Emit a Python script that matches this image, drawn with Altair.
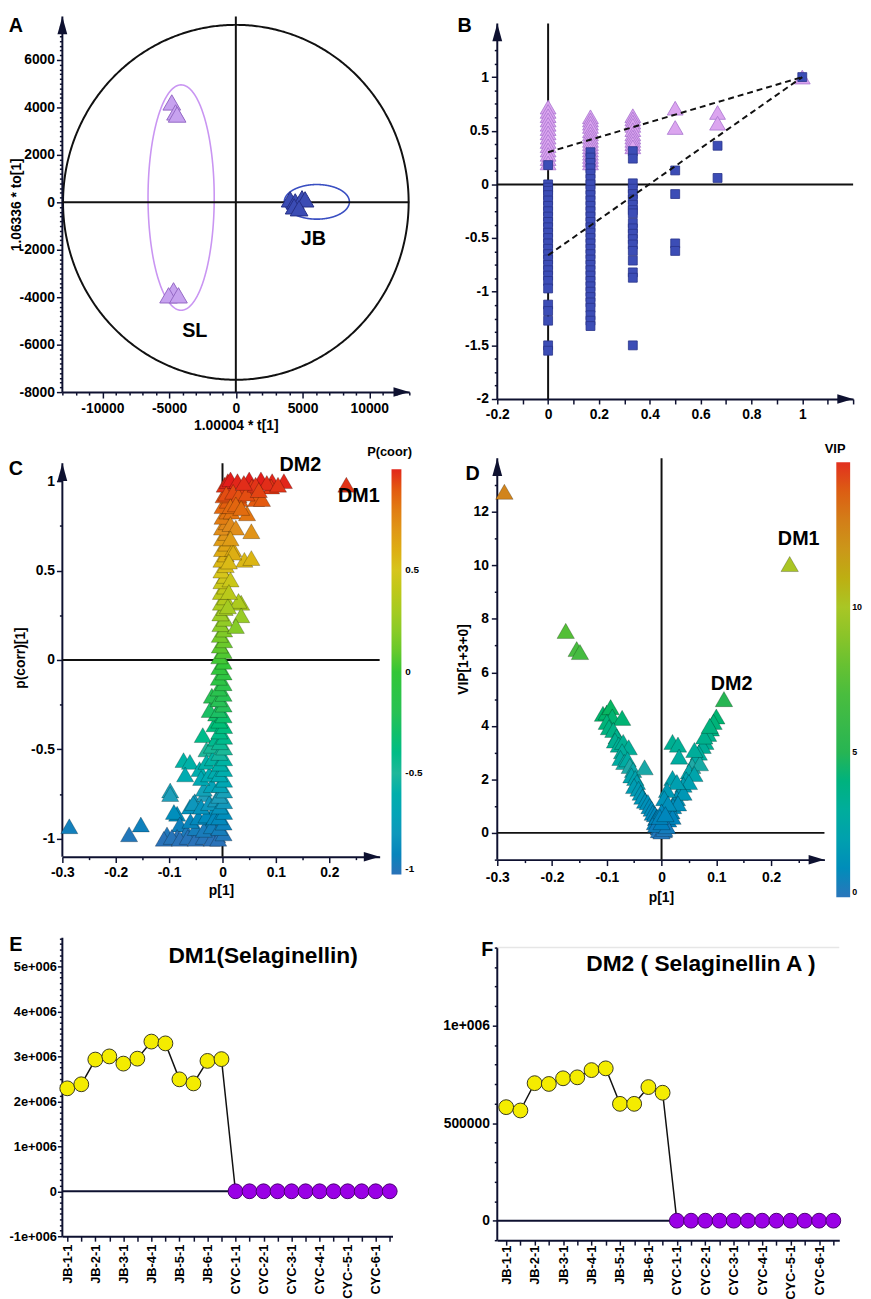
import altair as alt
import pandas as pd

FONT = "Liberation Sans"
AX = "#0e1130"
INK = "#111111"

# ================= Panel A : score plot =================
a_sl_x = [-4800, -4520, -4400, -4670, -5040, -4300]
a_sl_y = [4210, 3790, 3700, -3710, -3920, -3920]
a_jb_x = [4070, 4450, 4960, 5190, 4370, 4740]
a_jb_y = [125, 40, 170, 125, -170, -250]
a_ell_cx = [0, -4100, 6070]
a_ell_cy = [0, 200, 20]
a_ell_rx = [12950, 2480, 2440]
a_ell_ry = [7480, 4750, 730]
a_ell_color = ["#111111", "#c995f2", "#3a4fc2"]
a_ell_width = [2, 1.6, 1.6]
a_lab_x = [5815, -3074]
a_lab_y = [-1542, -5417]
a_lab_t = ["JB", "SL"]
a_x_ticks = list(range(-13000, 13001, 1000))
a_x_major = [-10000, -5000, 0, 5000, 10000]
a_y_ticks = list(range(-8000, 7401, 200))
a_y_major = [-8000, -6000, -4000, -2000, 0, 2000, 4000, 6000]

# ================= Panel B : permutation test =================
b_levels = [0.0, 0.1667, 0.3333, 0.5, 0.6667, 1.0]
b_r2 = [
    [0.72, 0.68, 0.64, 0.60, 0.56, 0.52, 0.48, 0.44, 0.40, 0.36, 0.32, 0.28, 0.24, 0.20],
    [0.63, 0.60, 0.57, 0.54, 0.50, 0.47, 0.44, 0.41, 0.38, 0.35, 0.32, 0.29, 0.26, 0.23, 0.20],
    [0.64, 0.61, 0.58, 0.55, 0.51, 0.47, 0.44, 0.41, 0.38, 0.35],
    [0.71, 0.53],
    [0.67, 0.57],
    [1.0],
]
b_q2 = [
    [0.18, 0.0, -0.03, -0.06, -0.1, -0.15, -0.2, -0.25, -0.3, -0.35, -0.4, -0.45, -0.5, -0.55,
     -0.6, -0.65, -0.7, -0.75, -0.8, -0.85, -0.9, -0.97, -1.12, -1.18, -1.27, -1.5, -1.55],
    [0.3, 0.25, 0.2, 0.15, 0.1, 0.05, 0.0, -0.05, -0.1, -0.15, -0.2, -0.25, -0.3, -0.35, -0.4,
     -0.45, -0.5, -0.55, -0.6, -0.65, -0.7, -0.75, -0.8, -0.85, -0.9, -0.95, -1.0, -1.05, -1.1,
     -1.15, -1.22, -1.27, -1.32],
    [0.31, 0.24, 0.01, -0.04, -0.09, -0.14, -0.19, -0.24, -0.27, -0.36, -0.41, -0.46, -0.51,
     -0.56, -0.62, -0.71, -0.82, -0.87, -1.5],
    [0.13, -0.09, -0.55, -0.62],
    [0.36, 0.06],
    [1.0],
]
b_r2_line_x = [0.0, 1.0]
b_r2_line_y = [0.30, 1.0]
b_q2_line_x = [0.0, 1.0]
b_q2_line_y = [-0.66, 1.0]
b_x_ticks = [-0.2, -0.1, 0.0, 0.1, 0.2, 0.3, 0.4, 0.5, 0.6, 0.7, 0.8, 0.9, 1.0, 1.1, 1.2]
b_x_major = [-0.2, 0.0, 0.2, 0.4, 0.6, 0.8, 1.0]
b_y_ticks = [i * 0.125 for i in range(-16, 12)]
b_y_major = [-2.0, -1.5, -1.0, -0.5, 0.0, 0.5, 1.0]

# ================= Panel C : S-plot =================
c_core_x = [-0.008, 0.002, -0.006, 0.002, -0.006, 0.003, -0.005, 0.003, -0.006, 0.003,
            -0.005, 0.003, -0.006, 0.003, -0.005, 0.003, -0.006, 0.003, -0.005, 0.003,
            -0.006, 0.003, -0.006, 0.002, -0.007, 0.002, -0.007, 0.002, -0.007, 0.002,
            -0.007, 0.002, -0.006, 0.002, -0.006, 0.002, -0.005, 0.003, -0.005, 0.003,
            -0.004, 0.004, -0.004, 0.004, -0.003, 0.005, -0.003, 0.005, -0.002, 0.005,
            -0.002, 0.006, -0.002, 0.006, -0.001, 0.007, -0.001, 0.007, -0.001, 0.008,
            0.0, 0.009, 0.0, 0.010, 0.002, 0.012, 0.004, 0.010]
c_core_y = [-1.00, -0.97, -0.94, -0.91, -0.88, -0.85, -0.82, -0.79, -0.76, -0.73,
            -0.70, -0.67, -0.64, -0.61, -0.58, -0.55, -0.52, -0.49, -0.46, -0.43,
            -0.40, -0.37, -0.34, -0.31, -0.28, -0.25, -0.22, -0.19, -0.16, -0.13,
            -0.10, -0.07, -0.04, -0.01, 0.02, 0.05, 0.08, 0.11, 0.14, 0.17,
            0.20, 0.23, 0.26, 0.29, 0.32, 0.35, 0.38, 0.41, 0.44, 0.47,
            0.50, 0.53, 0.56, 0.59, 0.62, 0.65, 0.68, 0.71, 0.74, 0.77,
            0.80, 0.83, 0.86, 0.89, 0.92, 0.95, 0.98, 1.00]
c_top_x = [0.015, 0.028, 0.05, 0.072, 0.093, 0.115,
           0.091, 0.063, 0.074, 0.032, 0.007, 0.046, 0.017, 0.054, 0.041, 0.054, 0.020, 0.035,
           0.035, 0.025, 0.030,
           0.040, 0.055, 0.020, 0.030, 0.045, 0.015, 0.025, 0.035, 0.015, 0.025, 0.015, 0.020,
           0.012, 0.015, 0.012, 0.010,
           0.083, 0.062, 0.104, 0.040, 0.068]
c_top_y = [1.01, 1.00, 1.01, 1.01, 1.00, 1.00,
           0.97, 0.90, 0.90, 0.90, 0.93, 0.82, 0.83, 0.72, 0.56, 0.57, 0.62, 0.32,
           0.25, 0.19, 0.33,
           0.96, 0.97, 0.94, 0.92, 0.93, 0.86, 0.87, 0.85, 0.76, 0.74, 0.68, 0.60,
           0.55, 0.45, 0.38, 0.30,
           0.99, 0.98, 0.98, 0.99, 0.95]
c_bot_x = [-0.073, -0.061, -0.07, -0.098, -0.098, -0.153, -0.175, -0.037, -0.03, -0.043,
           -0.052, -0.085, -0.091, -0.08, -0.104, -0.085, -0.067, -0.052, -0.024, -0.015,
           -0.01, -0.033, -0.061, -0.11, -0.095, -0.08, -0.065, -0.05, -0.035, -0.02,
           -0.05, -0.035, -0.02, -0.06, -0.045, -0.03, -0.015, -0.055, -0.04, -0.025,
           -0.012, -0.035, -0.02, -0.04, -0.025, -0.012, -0.03, -0.018, -0.02, -0.012,
           -0.015, -0.012, -0.01, -0.02, -0.024, -0.287]
c_bot_y = [-0.56, -0.57, -0.64, -0.73, -0.75, -0.92, -0.975, -0.42, -0.50, -0.61,
           -0.79, -0.86, -0.85, -0.92, -0.975, -0.99, -0.96, -0.975, -0.90, -0.84,
           -0.98, -0.75, -0.82, -1.0, -0.99, -1.0, -0.99, -1.0, -0.99, -1.0,
           -0.94, -0.95, -0.93, -0.90, -0.88, -0.87, -0.88, -0.80, -0.82, -0.80,
           -0.78, -0.72, -0.70, -0.66, -0.64, -0.62, -0.57, -0.55, -0.48, -0.44,
           -0.36, -0.30, -0.22, -0.20, -0.28, -0.93]
c_dm1 = (0.232, 0.98)
c_lab_x = [0.146, 0.2556]
c_lab_y = [1.089, 0.918]
c_lab_t = ["DM2", "DM1"]
c_x_ticks = [-0.3, -0.25, -0.2, -0.15, -0.1, -0.05, 0.0, 0.05, 0.1, 0.15, 0.2, 0.25]
c_x_major = [-0.3, -0.2, -0.1, 0.0, 0.1, 0.2]
c_y_ticks = [-1.0, -0.75, -0.5, -0.25, 0.0, 0.25, 0.5, 0.75, 1.0]
c_y_major = [-1.0, -0.5, 0.0, 0.5, 1.0]
c_col_dom = [-1, -0.75, -0.5, -0.25, 0, 0.25, 0.5, 0.75, 1]
c_col_fill = ["#2a72b8", "#219fba", "#1fb79a", "#27c05a", "#34c636", "#98cc26", "#d6c51c",
              "#e08c1c", "#e2261a"]
c_legend_values = [-1, -0.5, 0, 0.5]

# ================= Panel D : VIP plot =================
d_left_x = [-0.107, -0.1, -0.093, -0.09, -0.1, -0.096, -0.072, -0.088, -0.082, -0.085,
            -0.078, -0.07, -0.06, -0.072, -0.075, -0.068, -0.062, -0.058, -0.052, -0.031,
            -0.055, -0.048, -0.045, -0.05, -0.042, -0.038, -0.035, -0.03, -0.025, -0.022,
            -0.018, -0.016, -0.012, -0.01, -0.012, -0.006, -0.005, -0.002, -0.008, -0.004]
d_left_v = [4.45, 4.5, 4.7, 4.35, 4.15, 3.95, 4.3, 3.85, 3.6, 3.45,
            3.3, 3.4, 3.2, 3.05, 2.8, 2.65, 2.75, 2.5, 2.35, 2.45,
            2.15, 2.05, 1.9, 1.75, 1.65, 1.5, 1.35, 1.2, 1.15, 1.0,
            0.9, 0.75, 0.7, 0.55, 0.4, 0.35, 0.2, 0.1, 0.6, 0.45]
d_right_x = [0.114, 0.1, 0.095, 0.09, 0.085, 0.08, 0.075, 0.068, 0.062, 0.056,
             0.05, 0.045, 0.04, 0.033, 0.028, 0.021, 0.018, 0.012, 0.008, 0.004,
             0.07, 0.06, 0.05, 0.04, 0.03, 0.02, 0.06, 0.078, 0.088,
             0.02, 0.03, 0.032, 0.02, 0.028, 0.01, 0.005, 0.012, 0.0, -0.005,
             0.0, 0.005, -0.01, 0.01, 0.0, -0.003, 0.007]
d_right_v = [5.0, 4.35, 4.15, 3.9, 3.7, 3.4, 3.25, 3.0, 2.75, 2.5,
             2.3, 2.0, 1.8, 1.5, 1.3, 1.0, 0.8, 0.5, 0.3, 0.1,
             2.6, 2.2, 1.9, 1.5, 1.1, 0.6, 3.1, 3.6, 4.0,
             3.4, 3.3, 2.85, 2.05, 1.9, 1.6, 1.3, 1.1, 0.8, 0.1,
             0.05, 0.15, 0.3, 0.25, 0.4, 0.6, 0.7]
d_out_x = [-0.287, -0.175, -0.155, -0.149, 0.234]
d_out_v = [12.75, 7.55, 6.87, 6.76, 10.05]
d_lab_x = [0.2505, 0.1278]
d_lab_y = [11.0, 5.58]
d_lab_t = ["DM1", "DM2"]
d_x_ticks = c_x_ticks
d_x_major = c_x_major
d_y_ticks = list(range(-1, 14))
d_y_major = [0, 2, 4, 6, 8, 10, 12]
d_col_dom = [0, 2.5, 5, 7.5, 10, 12.5, 15]
d_col_fill = ["#2a76bb", "#1fa9a6", "#27b553", "#52bf38", "#a9c625", "#cf8b21", "#e2301f"]
d_legend_values = [0, 5, 10]

# ================= Panels E / F : intensity profiles =================
sample_labels = ["JB-1-1", "JB-2-1", "JB-3-1", "JB-4-1", "JB-5-1", "JB-6-1",
                 "CYC-1-1", "CYC-2-1", "CYC-3-1", "CYC-4-1", "CYC--5-1", "CYC-6-1"]
sample_idx = list(range(24))
e_vals = [2290000, 2380000, 2930000, 3000000, 2840000, 2950000, 3330000, 3290000,
          2490000, 2400000, 2900000, 2940000, 0, 0, 0, 0, 0, 0, 0, 0, 0, 0, 0, 0]
f_vals = [582000, 565000, 705000, 701000, 730000, 735000, 772000, 781000,
          599000, 599000, 685000, 656000, 0, 0, 0, 0, 0, 0, 0, 0, 0, 0, 0, 0]
e_title = "DM1(Selaginellin)"
f_title = "DM2 ( Selaginellin A )"
e_y_ticks = [i * 125000 for i in range(-8, 46)]
e_y_major = [-1000000, 0, 1000000, 2000000, 3000000, 4000000, 5000000]
f_y_ticks = [i * 100000 for i in range(-1, 15)]
f_y_major = [0, 500000, 1000000]

UP = "M0,0L0.55,2L-0.55,2Z"
RIGHT = "M0,0L-2,-0.6L-2,0.6Z"


def axis_spec(ticks, major, title=None, fs=14, pad=2, tpad=3, maj=6, mino=3, expr=None, angle=None,
              domain=True):
    test = f"indexof({major}, datum.value) >= 0"
    kw = dict(values=ticks,
              labelExpr=expr if expr else f"{test} ? '' + datum.value : ''",
              tickSize={"condition": {"test": test, "value": maj}, "value": mino},
              labelFontSize=fs, labelPadding=pad, title=title, titlePadding=tpad, domain=domain)
    if angle is not None:
        kw["labelAngle"] = angle
    return alt.Axis(**kw)


class Panel:
    def __init__(self, xdom, ydom, xaxis, yaxis):
        self.xdom, self.ydom = xdom, ydom
        self.sx = alt.Scale(domain=xdom, nice=False, zero=False)
        self.sy = alt.Scale(domain=ydom, nice=False, zero=False)
        self.xa, self.ya = xaxis, yaxis

    def X(self, f):
        return alt.X(f, type="quantitative", scale=self.sx, axis=self.xa)

    def Y(self, f):
        return alt.Y(f, type="quantitative", scale=self.sy, axis=self.ya)


def texts(p, xs, ys, ts, size, baseline="middle", align="center", color="black"):
    df = pd.DataFrame({"x": xs, "y": ys, "t": ts})
    return alt.Chart(df).mark_text(font=FONT, fontSize=size, fontWeight="bold", color=color,
                                   align=align, baseline=baseline).encode(
        x=p.X("x"), y=p.Y("y"), text="t:N")


def rule(p, x, x2, y, y2, color=INK, width=2, dash=None):
    df = pd.DataFrame({"x": [x], "x2": [x2], "y": [y], "y2": [y2]})
    mk = dict(color=color, strokeWidth=width)
    if dash:
        mk["strokeDash"] = dash
    return alt.Chart(df).mark_rule(**mk).encode(x=p.X("x"), x2=alt.X2("x2"), y=p.Y("y"), y2=alt.Y2("y2"))


def pts(p, xs, ys, shape, size, fill, stroke, sw=1.0):
    df = pd.DataFrame({"x": xs, "y": ys})
    return alt.Chart(df).mark_point(shape=shape, size=size, filled=True, fill=fill, stroke=stroke,
                                    strokeWidth=sw, opacity=1).encode(x=p.X("x"), y=p.Y("y"))


def yaxis_line(p, ytop):
    return rule(p, p.xdom[0], p.xdom[0], p.ydom[0], ytop, color=AX, width=2)


def arrows(p, ytop):
    up = alt.Chart(pd.DataFrame({"x": [p.xdom[0]], "y": [ytop]})).mark_point(
        shape=UP, size=324, filled=True, fill=AX, strokeWidth=0, opacity=1).encode(
        x=p.X("x"), y=p.Y("y"))
    rt = alt.Chart(pd.DataFrame({"x": [p.xdom[1]], "y": [p.ydom[0]]})).mark_point(
        shape=RIGHT, size=256, filled=True, fill=AX, strokeWidth=0, opacity=1).encode(
        x=p.X("x"), y=p.Y("y"))
    return [up, rt]


def ellipse(p, cx, cy, rx, ry, color, width):
    return (alt.Chart(alt.sequence(0, 6.30, 0.01, as_="t"))
            .transform_calculate(ex=f"{cx} + {rx} * cos(datum.t)", ey=f"{cy} + {ry} * sin(datum.t)")
            .mark_line(color=color, strokeWidth=width)
            .encode(x=p.X("ex"), y=p.Y("ey"), order="t:Q"))


def colour_triangles(p, xs, ys, vals, dom, rng, size, legend):
    df = pd.DataFrame({"x": xs, "y": ys, "v": vals})
    return alt.Chart(df).mark_point(shape="triangle-up", filled=True, size=size, opacity=1,
                                    stroke="#000000", strokeOpacity=0.3, strokeWidth=0.8).encode(
        x=p.X("x"), y=p.Y("y"),
        fill=alt.Fill("v:Q", scale=alt.Scale(domain=dom, range=rng), legend=legend))


def colourbar(x, y, length, thick, values, fs, offset):
    return alt.Legend(type="gradient", orient="none", legendX=x, legendY=y, direction="vertical",
                      gradientLength=length, gradientThickness=thick, values=values, labelFont=FONT,
                      labelFontWeight="bold", labelFontSize=fs, labelOffset=offset, title=None,
                      gradientStrokeWidth=0, labelExpr="'' + datum.value")


# ---------- A ----------
AXD, AYD = [-13000, 13000], [-8000, 7833]
pA = Panel(AXD, AYD,
           axis_spec(a_x_ticks, a_x_major, title="1.00004 * t[1]", pad=4, tpad=3),
           axis_spec(a_y_ticks, a_y_major, title="1.06336 * to[1]", pad=2, tpad=-4, domain=False))
layersA = [ellipse(pA, a_ell_cx[i], a_ell_cy[i], a_ell_rx[i], a_ell_ry[i], a_ell_color[i], a_ell_width[i])
           for i in range(3)]
layersA += [yaxis_line(pA, AYD[1]), rule(pA, 0, 0, AYD[0], AYD[1]), rule(pA, AXD[0], AXD[1], 0, 0)]
layersA += [pts(pA, a_sl_x, a_sl_y, "triangle-up", 320, "#c7a2ef", "#9468c4"),
            pts(pA, a_jb_x, a_jb_y, "triangle-up", 320, "#3b4cb4", "#252f85")]
layersA += [texts(pA, a_lab_x, a_lab_y, a_lab_t, 20),
            texts(pA, [-16481], [7416], ["A"], 20)]
layersA += arrows(pA, AYD[1])
chartA = alt.layer(*layersA).properties(width=351, height=380)

# ---------- B ----------
BXD, BYD, BTOP = [-0.2, 1.2], [-2, 1.5645], 1.5
pB = Panel(BXD, BYD,
           axis_spec(b_x_ticks, b_x_major, pad=4, maj=5, mino=5),
           axis_spec(b_y_ticks, b_y_major, pad=3, domain=False))
b_tx = [lv for lv, vals in zip(b_levels, b_r2) for _ in vals]
b_ty = [v for vals in b_r2 for v in vals]
b_sx = [lv for lv, vals in zip(b_levels, b_q2) for _ in vals]
b_sy = [v for vals in b_q2 for v in vals]
layersB = [yaxis_line(pB, BTOP), rule(pB, 0, 0, BYD[0], BTOP), rule(pB, BXD[0], BXD[1], 0, 0)]
layersB += [pts(pB, b_tx, b_ty, "triangle-up", 256, "#dba5ef", "#a874cf", 0.8),
            pts(pB, b_sx, b_sy, "square", 81, "#3c4db6", "#28348a", 0.8)]
for lx, ly in [(b_r2_line_x, b_r2_line_y), (b_q2_line_x, b_q2_line_y)]:
    layersB.append(alt.Chart(pd.DataFrame({"x": lx, "y": ly})).mark_line(
        color=INK, strokeWidth=2, strokeDash=[6, 4]).encode(x=pB.X("x"), y=pB.Y("y")))
layersB.append(texts(pB, [-0.328], [1.4724], ["B"], 20))
layersB += arrows(pB, BTOP)
chartB = alt.layer(*layersB).properties(width=360, height=387)

# ---------- C ----------
CXD, CYD, CTOP = [-0.3, 0.2944], [-1.1, 1.1276], 1.1
pC = Panel(CXD, CYD,
           axis_spec(c_x_ticks, c_x_major, title="p[1]", pad=3, tpad=4),
           axis_spec(c_y_ticks, c_y_major, title="p(corr)[1]", pad=2, tpad=3, domain=False))
c_x = c_bot_x + c_core_x + c_top_x + [c_dm1[0]]
c_y = c_bot_y + c_core_y + c_top_y + [c_dm1[1]]
triC = colour_triangles(pC, c_x, c_y, c_y, c_col_dom, c_col_fill, 300,
                        colourbar(333, 11, 410, 10, c_legend_values, 10, 4))
layersC = [yaxis_line(pC, CTOP), rule(pC, 0, 0, CYD[0], CTOP), rule(pC, CXD[0], CXD[1], 0, 0), triC,
           texts(pC, c_lab_x, c_lab_y, c_lab_t, 20),
           texts(pC, [0.313], [1.161], ["P(coor)"], 13),
           texts(pC, [-0.387], [1.067], ["C"], 20)]
layersC += arrows(pC, CTOP)
chartC = alt.layer(*layersC).properties(width=321, height=403)

# ---------- D ----------
DXD, DYD, DTOP = [-0.3, 0.2975], [-1, 14], 14
pD = Panel(DXD, DYD,
           axis_spec(d_x_ticks, d_x_major, title="p[1]", pad=5, tpad=6),
           axis_spec(d_y_ticks, d_y_major, title="VIP[1+3+0]", pad=3, tpad=3, domain=False))
d_x = d_left_x + d_right_x + d_out_x
d_v = d_left_v + d_right_v + d_out_v
triD = colour_triangles(pD, d_x, d_v, d_v, d_col_dom, d_col_fill, 310,
                        colourbar(343, 4, 440, 14, d_legend_values, 9, 2))
layersD = [yaxis_line(pD, DTOP), rule(pD, 0, 0, DYD[0], DTOP), rule(pD, DXD[0], DXD[1], 0, 0), triD,
           texts(pD, d_lab_x, d_lab_y, d_lab_t, 20),
           texts(pD, [0.317], [14.33], ["VIP"], 13),
           texts(pD, [-0.345], [13.41], ["D"], 20)]
layersD += arrows(pD, DTOP)
chartD = alt.layer(*layersD).properties(width=331, height=406)


# ---------- E / F ----------
def profile(vals, xdom, ydom, ytop, yticks, ymajor, yexpr, yfs, ypad, ymaj, xpad, title, title_xy,
            letter, letter_xy, width, height, top_line=False):
    xexpr = f"datum.value % 2 === 0 ? {sample_labels}[datum.value / 2] : ''"
    p = Panel(xdom, ydom,
              axis_spec(sample_idx, sample_idx, pad=xpad, fs=13, maj=5, mino=5, expr=xexpr, angle=270),
              axis_spec(yticks, ymajor, fs=yfs, pad=ypad, maj=ymaj, mino=3, expr=yexpr, domain=False))
    df = pd.DataFrame({"x": sample_idx, "y": vals})
    layers = [yaxis_line(p, ytop)]
    if top_line:
        layers.append(rule(p, xdom[0], xdom[1], ytop, ytop, color="#e6e6e6", width=1.5))
    layers.append(rule(p, xdom[0], sample_idx[-1], 0, 0, color=AX, width=2))
    layers.append(alt.Chart(df).mark_line(color=INK, strokeWidth=1.5).encode(
        x=p.X("x"), y=p.Y("y"), order="x:Q"))
    layers.append(pts(p, sample_idx[:12], vals[:12], "circle", 225, "#f4ec00", "#3a3a20", 1.0))
    layers.append(pts(p, sample_idx[12:], vals[12:], "circle", 225, "#9a00e6", "#4a0070", 1.0))
    layers.append(texts(p, [title_xy[0]], [title_xy[1]], [title], 23))
    layers.append(texts(p, [letter_xy[0]], [letter_xy[1]], [letter], 20))
    return alt.layer(*layers).properties(width=width, height=height)


e_expr = (f"indexof({e_y_major}, datum.value) >= 0 ? "
          f"(datum.value == 0 ? '0' : (datum.value / 1000000) + 'e+006') : ''")
f_expr = (f"indexof({f_y_major}, datum.value) >= 0 ? "
          f"(datum.value == 1000000 ? '1e+006' : '' + datum.value) : ''")
chartE = profile(e_vals, [-0.35, 23.2], [-1000000, 6058000], 5640000, e_y_ticks, e_y_major, e_expr,
                 13, 1, 5, 3, e_title, (13.97, 5222000), "E", (-3.665, 5486000), 334, 321)
chartF = profile(f_vals, [-0.625, 23.42], [-100000, 1547000], 1400000, f_y_ticks, f_y_major, f_expr,
                 14, 3, 5, 0, f_title, (13.69, 1314000), "F", (-1.323, 1385000), 346, 325, top_line=True)

chart = (alt.concat(chartA, chartB, chartC, chartD, chartE, chartF, columns=2,
                    spacing={"row": 60, "column": 89}, bounds="flush")
         .resolve_scale(fill="independent")
         .properties(padding=0, background="white")
         .configure_axis(grid=False, labelFlush=False, labelOverlap=False, domainColor=AX, domainWidth=2,
                         tickColor=AX, tickWidth=1.5, labelFont=FONT, labelFontWeight="bold",
                         labelColor="black", titleFont=FONT, titleFontWeight="bold", titleFontSize=14,
                         titleColor="black")
         .configure_view(strokeWidth=0)
         .configure_legend(gradientVerticalMaxLength=500))

chart.save("out.html", embed_options={"renderer": "svg", "actions": False})
